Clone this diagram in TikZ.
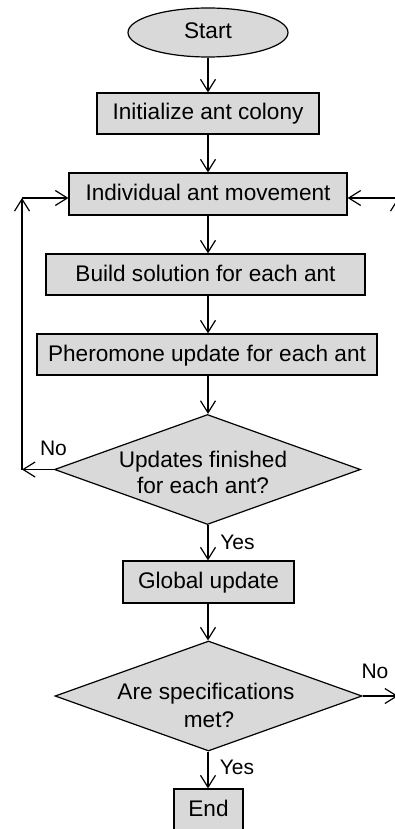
\documentclass[tikz,border=0pt]{standalone}
\usepackage{fontspec}
\setmainfont{Liberation Sans}
\usetikzlibrary{shapes.geometric,arrows.meta}
\definecolor{boxgray}{HTML}{D9D9D9}
\begin{document}
\begin{tikzpicture}[x=1pt,y=-1pt,
  every node/.style={font=\fontsize{22.6}{26}\selectfont, inner sep=0pt},
  stepbox/.style={draw, line width=1.2pt, fill=boxgray, rectangle,
    minimum height=41pt, text height=16.5pt, text depth=3.5pt},
  terminal/.style={draw, line width=1.2pt, fill=boxgray, ellipse,
    minimum width=160pt, minimum height=49pt, text height=16.5pt, text depth=3.5pt},
  decision/.style={draw, line width=1.2pt, fill=boxgray, diamond,
    minimum width=306pt, minimum height=110pt},
  dtext/.style={anchor=base},
  lbl/.style={font=\fontsize{21}{25}\selectfont, anchor=base},
  link/.style={line width=1.2pt, -{Straight Barb[length=12pt,width=15pt]}},
  plain/.style={line width=1.2pt}
]
\clip (0,0) rectangle (395,829);

% process steps
\node[terminal] (start) at (208,32.5) {Start};
\node[stepbox, minimum width=222pt] (init) at (208,113.5) {Initialize ant colony};
\node[stepbox, minimum width=278pt, minimum height=42pt] (move) at (208,194) {Individual ant movement};
\node[stepbox, minimum width=319pt] (build) at (205.5,274.5) {Build solution for each ant};
\node[stepbox, minimum width=340pt] (pher) at (207,354.5) {Pheromone update for each ant};
\node[decision] (check) at (207.5,469.5) {};
\node[dtext] (checkA) at (203,467) {Updates finished};
\node[dtext] (checkB) at (203,493) {for each ant?};
\node[stepbox, minimum width=171pt, minimum height=42pt] (global) at (208.5,582) {Global update};
\node[decision, minimum width=307pt] (spec) at (208.5,696) {};
\node[dtext] (specA) at (206,699) {Are specifications};
\node[dtext] (specB) at (209,727) {met?};
\node[stepbox, minimum width=69pt] (finish) at (208.5,809.5) {End};

% branch labels
\node[lbl] (noA) at (53.5,455) {No};
\node[lbl] (yesA) at (237.5,549) {Yes};
\node[lbl] (noB) at (375,678) {No};
\node[lbl] (yesB) at (237,774) {Yes};

% loop corners
\coordinate (lb) at (22,469.5);
\coordinate (lt) at (22,198);
\coordinate (rb) at (398,696);
\coordinate (rt) at (398,198);

% main flow
\draw[link] (start.south) -- (init.north);
\draw[link] (init.south) -- (move.north);
\draw[link] (move.south) -- (move.south |- build.north);
\draw[link] (move.south |- build.south) -- (move.south |- pher.north);
\draw[link] (move.south |- pher.south) -- (move.south |- check.north);
\draw[link] (move.south |- check.south) -- (move.south |- global.north);
\draw[link] (move.south |- global.south) -- (move.south |- spec.north);
\draw[link] (move.south |- spec.south) -- (move.south |- finish.north);

% inner loop: updates not finished
\draw[link] (check.west) -- (lb);
\draw[link] (lb) -- (lt);
\draw[link] (lt) -- (lt -| move.west);

% outer loop: specifications not met
\draw[link] (spec.east) -- (rb);
\draw[link] (rb) -- (rt);
\draw[link] (rt) -- (rt -| move.east);
\end{tikzpicture}
\end{document}
